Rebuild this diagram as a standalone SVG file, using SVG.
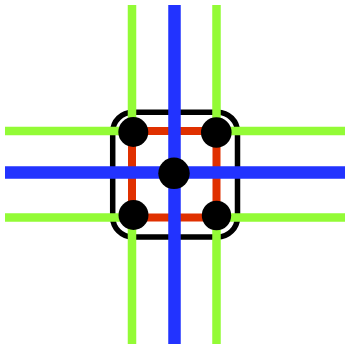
<svg xmlns="http://www.w3.org/2000/svg" width="346" height="345" viewBox="0 0 346 345">
<style>
.frame{fill:none;stroke:#000;stroke-width:5.5}
.red{stroke:#e03000;stroke-width:8;fill:none}
.green{stroke:#93fb36;stroke-width:8.5;fill:none}
.blue{stroke:#2233ff;stroke-width:12.5;fill:none}
.dot{fill:#000}
</style>
<rect width="346" height="345" fill="#fff"/>
<g id="frame"><rect class="frame" x="112.7" y="112.2" width="124.8" height="124.8" rx="20" ry="20"/></g>
<g id="connectors">
<path class="red" d="M132 131H216.5M132 217.6H216.5M132 131V217.6M216.5 131V217.6"/>
<path class="green" d="M132 5V131M216.5 5V131M132 217.6V344M216.5 217.6V344M5 131H132M216.5 131H345M5 217.6H132M216.5 217.6H345"/>
<path class="blue" d="M174.5 5V344M5 172.5H345"/>
</g>
<g id="node-tl"><circle class="dot" cx="133.3" cy="132" r="15"/></g>
<g id="node-tr"><circle class="dot" cx="216.3" cy="132.5" r="15.3"/></g>
<g id="node-c"><circle class="dot" cx="174" cy="173.3" r="15.7"/></g>
<g id="node-bl"><circle class="dot" cx="133.5" cy="215" r="15"/></g>
<g id="node-br"><circle class="dot" cx="216.5" cy="215.5" r="14.7"/></g>
</svg>
